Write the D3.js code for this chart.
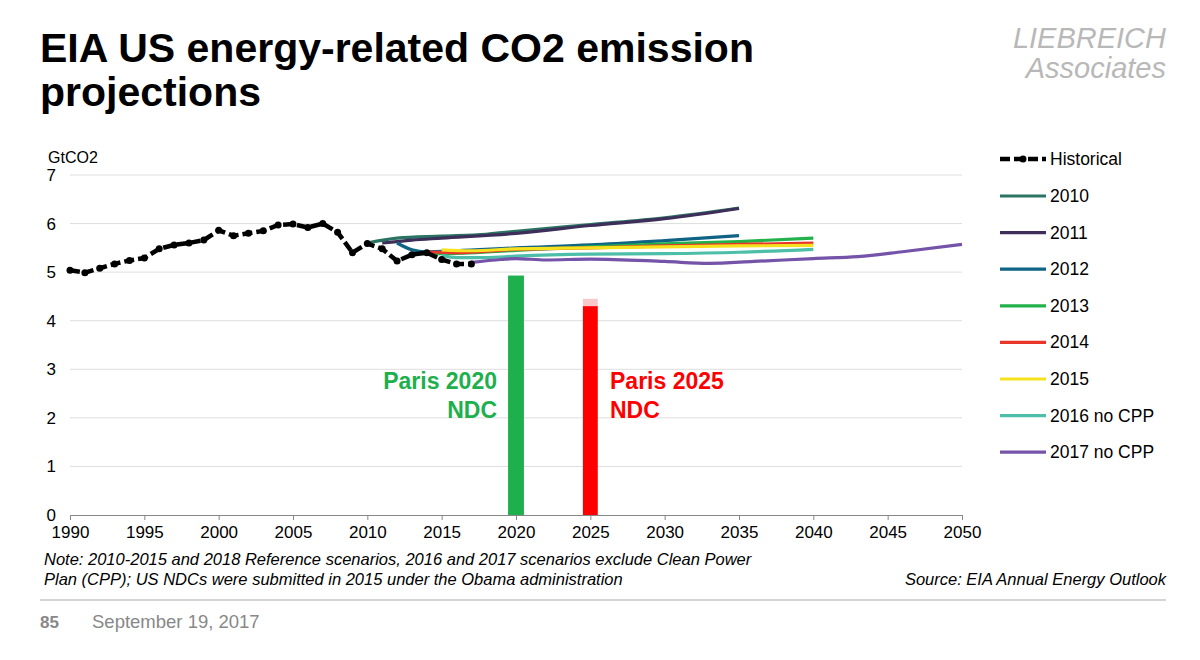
<!DOCTYPE html>
<html><head><meta charset="utf-8">
<script src="https://cdn.jsdelivr.net/npm/d3@7"></script>
<style>body{margin:0;background:#fff;font-family:Arial,"Liberation Sans",sans-serif}</style>
</head><body><svg id="c" width="1200" height="660"></svg>
<script>
const histYears = d3.range(1990, 2018);
const histValues = [5.04,4.99,5.08,5.17,5.24,5.29,5.48,5.56,5.60,5.66,5.86,5.75,5.80,5.85,5.97,5.99,5.92,6.00,5.82,5.40,5.59,5.48,5.23,5.36,5.40,5.26,5.17,5.17];
const seriesNames = ["2010","2011","2012","2013","2014","2015","2016 no CPP","2017 no CPP"];
const seriesColors = ["#2a7463","#3d2f5a","#0f6384","#22b24c","#e8362a","#f5e21f","#4dbfa8","#7453a8"];
const s2010 = [[2010,5.6],[2012,5.7],[2015,5.74],[2018,5.78],[2020,5.84],[2025,5.98],[2030,6.12],[2035,6.32]];
const s2011 = [[2011,5.6],[2013,5.66],[2015,5.7],[2020,5.8],[2025,5.96],[2030,6.1],[2035,6.31]];
const s2012 = [[2012,5.6],[2013,5.46],[2014,5.42],[2016,5.44],[2020,5.5],[2025,5.56],[2030,5.65],[2035,5.75]];
const s2013 = [[2013,5.38],[2015,5.38],[2020,5.45],[2025,5.52],[2030,5.58],[2035,5.63],[2040,5.7]];
const s2014 = [[2014,5.42],[2016,5.4],[2020,5.47],[2025,5.5],[2030,5.54],[2035,5.57],[2040,5.6]];
const s2015 = [[2015,5.46],[2017,5.44],[2020,5.48],[2025,5.5],[2030,5.52],[2035,5.54],[2040,5.55]];
const s2016 = [[2015,5.34],[2016,5.3],[2018,5.3],[2020,5.33],[2025,5.37],[2030,5.38],[2035,5.41],[2040,5.47]];
const s2017 = [[2017,5.2],[2019,5.26],[2020,5.28],[2022,5.25],[2025,5.27],[2030,5.22],[2033,5.18],[2036,5.22],[2040,5.28],[2043,5.32],[2046,5.42],[2050,5.57]];
const seriesData = [s2010,s2011,s2012,s2013,s2014,s2015,s2016,s2017];
const xTicks = d3.range(1990, 2051, 5);
const yTicks = [0,1,2,3,4,5,6,7];
const paris2020 = 4.93, paris2025 = 4.3, paris2025Top = 4.45;

const svg = d3.select("#c");
const x = d3.scaleLinear().domain([1990,2050]).range([70,962]);
const y = d3.scaleLinear().domain([0,7]).range([515,175]);

svg.append("text").attr("x",40).attr("y",62).attr("font-size",41).attr("font-weight","bold").text("EIA US energy-related CO2 emission");
svg.append("text").attr("x",40).attr("y",106).attr("font-size",41).attr("font-weight","bold").text("projections");
svg.append("text").attr("x",1166).attr("y",48).attr("text-anchor","end").attr("font-size",29).attr("font-style","italic").attr("fill","#b8b8b8").text("LIEBREICH");
svg.append("text").attr("x",1166).attr("y",78).attr("text-anchor","end").attr("font-size",29).attr("font-style","italic").attr("fill","#b8b8b8").text("Associates");

svg.append("g").selectAll("line").data(yTicks.slice(1)).join("line")
  .attr("x1",70).attr("x2",962).attr("y1",d=>y(d)).attr("y2",d=>y(d)).attr("stroke","#dedede");
const ya = svg.append("g").attr("transform","translate(70,0)").call(d3.axisLeft(y).tickValues(yTicks).tickFormat(d3.format("d")).tickSize(0).tickPadding(14));
ya.select(".domain").remove(); ya.selectAll("text").attr("font-size",17).attr("font-family","Arial");
const xa = svg.append("g").attr("transform","translate(0,515)").call(d3.axisBottom(x).tickValues(xTicks).tickFormat(d3.format("d")).tickSize(5).tickPadding(6));
xa.select(".domain").attr("stroke","#888"); xa.selectAll("line").attr("stroke","#888");
xa.selectAll("text").attr("font-size",17).attr("font-family","Arial");
svg.append("text").attr("x",48).attr("y",163).attr("font-size",16).text("GtCO2");

const bw = x(1991)-x(1990);
svg.append("rect").attr("x",x(2020)-bw/2-0.5).attr("width",bw+1).attr("y",y(paris2020)).attr("height",y(0)-y(paris2020)).attr("fill","#1db04c");
svg.append("rect").attr("x",x(2025)-bw/2).attr("width",bw).attr("y",y(paris2025Top)).attr("height",y(paris2025)-y(paris2025Top)).attr("fill","#f9c8c8");
svg.append("rect").attr("x",x(2025)-bw/2).attr("width",bw).attr("y",y(paris2025)).attr("height",y(0)-y(paris2025)).attr("fill","#fe0000");
svg.append("text").attr("x",497).attr("y",389).attr("text-anchor","end").attr("font-size",23).attr("font-weight","bold").attr("fill","#1db04c").text("Paris 2020");
svg.append("text").attr("x",497).attr("y",418).attr("text-anchor","end").attr("font-size",23).attr("font-weight","bold").attr("fill","#1db04c").text("NDC");
svg.append("text").attr("x",610).attr("y",389).attr("font-size",23).attr("font-weight","bold").attr("fill","#fe0000").text("Paris 2025");
svg.append("text").attr("x",610).attr("y",418).attr("font-size",23).attr("font-weight","bold").attr("fill","#fe0000").text("NDC");

const line = d3.line().x(d=>x(d[0])).y(d=>y(d[1])).curve(d3.curveMonotoneX);
seriesData.forEach((s,i)=>{
  svg.append("path").datum(s).attr("d",line).attr("fill","none").attr("stroke",seriesColors[i]).attr("stroke-width",3.2);
});
const hist = histYears.map((yr,i)=>[yr,histValues[i]]);
const hl = d3.line().x(d=>x(d[0])).y(d=>y(d[1]));
svg.append("path").datum(hist).attr("d",hl).attr("fill","none").attr("stroke","#000").attr("stroke-width",4.5).attr("stroke-dasharray","10,4");
svg.append("g").selectAll("circle").data(hist).join("circle").attr("cx",d=>x(d[0])).attr("cy",d=>y(d[1])).attr("r",3.5).attr("fill","#000");

const lg = svg.append("g");
lg.append("line").attr("x1",1000).attr("x2",1046).attr("y1",159).attr("y2",159).attr("stroke","#000").attr("stroke-width",4.5).attr("stroke-dasharray","10,4");
lg.append("circle").attr("cx",1023).attr("cy",159).attr("r",3.5);
lg.append("text").attr("x",1050).attr("y",165).attr("font-size",17.5).text("Historical");
seriesNames.forEach((n,i)=>{
  const yy = 196 + i*36.6;
  lg.append("line").attr("x1",1000).attr("x2",1046).attr("y1",yy).attr("y2",yy).attr("stroke",seriesColors[i]).attr("stroke-width",3.2);
  lg.append("text").attr("x",1050).attr("y",yy+6).attr("font-size",17.5).text(n);
});

svg.append("text").attr("x",44).attr("y",565).attr("font-size",16.5).attr("font-style","italic").text("Note: 2010-2015 and 2018 Reference scenarios, 2016 and 2017 scenarios exclude Clean Power");
svg.append("text").attr("x",44).attr("y",585).attr("font-size",16.5).attr("font-style","italic").text("Plan (CPP); US NDCs were submitted in 2015 under the Obama administration");
svg.append("text").attr("x",1166).attr("y",585).attr("text-anchor","end").attr("font-size",16.5).attr("font-style","italic").text("Source: EIA Annual Energy Outlook");
svg.append("line").attr("x1",40).attr("x2",1166).attr("y1",600).attr("y2",600).attr("stroke","#aaa");
svg.append("text").attr("x",40).attr("y",628).attr("font-size",17).attr("font-weight","bold").attr("fill","#888").text("85");
svg.append("text").attr("x",92).attr("y",628).attr("font-size",18.5).attr("fill","#888").text("September 19, 2017");
</script></body></html>
